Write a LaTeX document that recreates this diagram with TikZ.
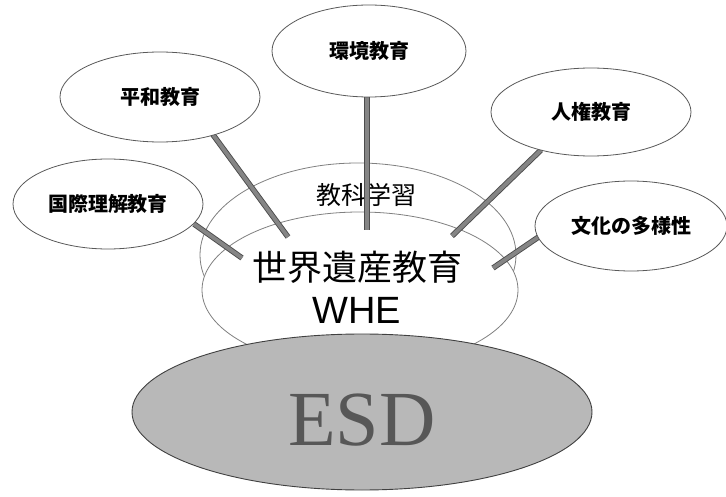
\documentclass[tikz,border=0pt]{standalone}
\usepackage{fontspec}
\newfontfamily\jp{Noto Sans CJK JP}
\newfontfamily\lsans{Liberation Sans}
\newfontfamily\lserif{Liberation Serif}
\usetikzlibrary{shapes.geometric}
\tikzset{
  sat/.style={ellipse, draw=black!65, line width=0.8pt, fill=white, inner sep=0pt,
    font=\jp\bfseries\fontsize{20}{24}\selectfont},
  bigring/.style={ellipse, draw=black!50, line width=0.8pt, inner sep=0pt},
  bar/.style={draw=black!70, line width=0.9pt, double=black!48, double distance=3.8pt},
}
\begin{document}
\begin{tikzpicture}[x=1pt,y=-1pt]
\useasboundingbox (0,0) rectangle (726,497);
\fill[white] (0,0) rectangle (726,497);
% central rings
\node[bigring, fill=white, minimum width=316pt, minimum height=184pt] (kyouka) at (358,255) {};
\node[bigring, fill=white, minimum width=316pt, minimum height=156pt] (whe) at (360,290) {};
\node[font=\jp\fontsize{25}{28}\selectfont] (kyoukatxt) at (366,195) {教科学習};
\node[font=\jp\fontsize{35}{38}\selectfont] (whetxt) at (357,267) {世界遺産教育};
\node[font=\lsans\fontsize{38}{40}\selectfont] (wheen) at (357,310) {WHE};
% ESD
\node[ellipse, draw=black!75, line width=0.9pt, fill=black!28, inner sep=0pt,
  minimum width=460pt, minimum height=156pt] (esd) at (362,412) {};
\node[font=\lserif\fontsize{78}{80}\selectfont, text=black!66] (esdtxt) at (362,420) {ESD};
% connector end points
\coordinate (k1) at (367,94);   \coordinate (k2) at (367,230);
\coordinate (h1) at (211,132);  \coordinate (h2) at (288,237);
\coordinate (c1) at (194,224);  \coordinate (c2) at (242,258);
\coordinate (j1) at (541,150);  \coordinate (j2) at (452,236);
\coordinate (b1) at (540,236);  \coordinate (b2) at (493,268);
\draw[bar] (k1) -- (k2);
\draw[bar] (h1) -- (h2);
\draw[bar] (c1) -- (c2);
\draw[bar] (j1) -- (j2);
\draw[bar] (b1) -- (b2);
% satellites
\node[sat, minimum width=194pt, minimum height=92pt] (kankyo) at (369,51) {環境教育};
\node[sat, minimum width=200pt, minimum height=90pt] (heiwa) at (160,97) {平和教育};
\node[sat, minimum width=190pt, minimum height=90pt] (kokusai) at (108,204) {国際理解教育};
\node[sat, minimum width=200pt, minimum height=88pt] (jinken) at (591,112) {人権教育};
\node[sat, minimum width=192pt, minimum height=90pt] (bunka) at (631,226) {文化の多様性};
\end{tikzpicture}
\end{document}
